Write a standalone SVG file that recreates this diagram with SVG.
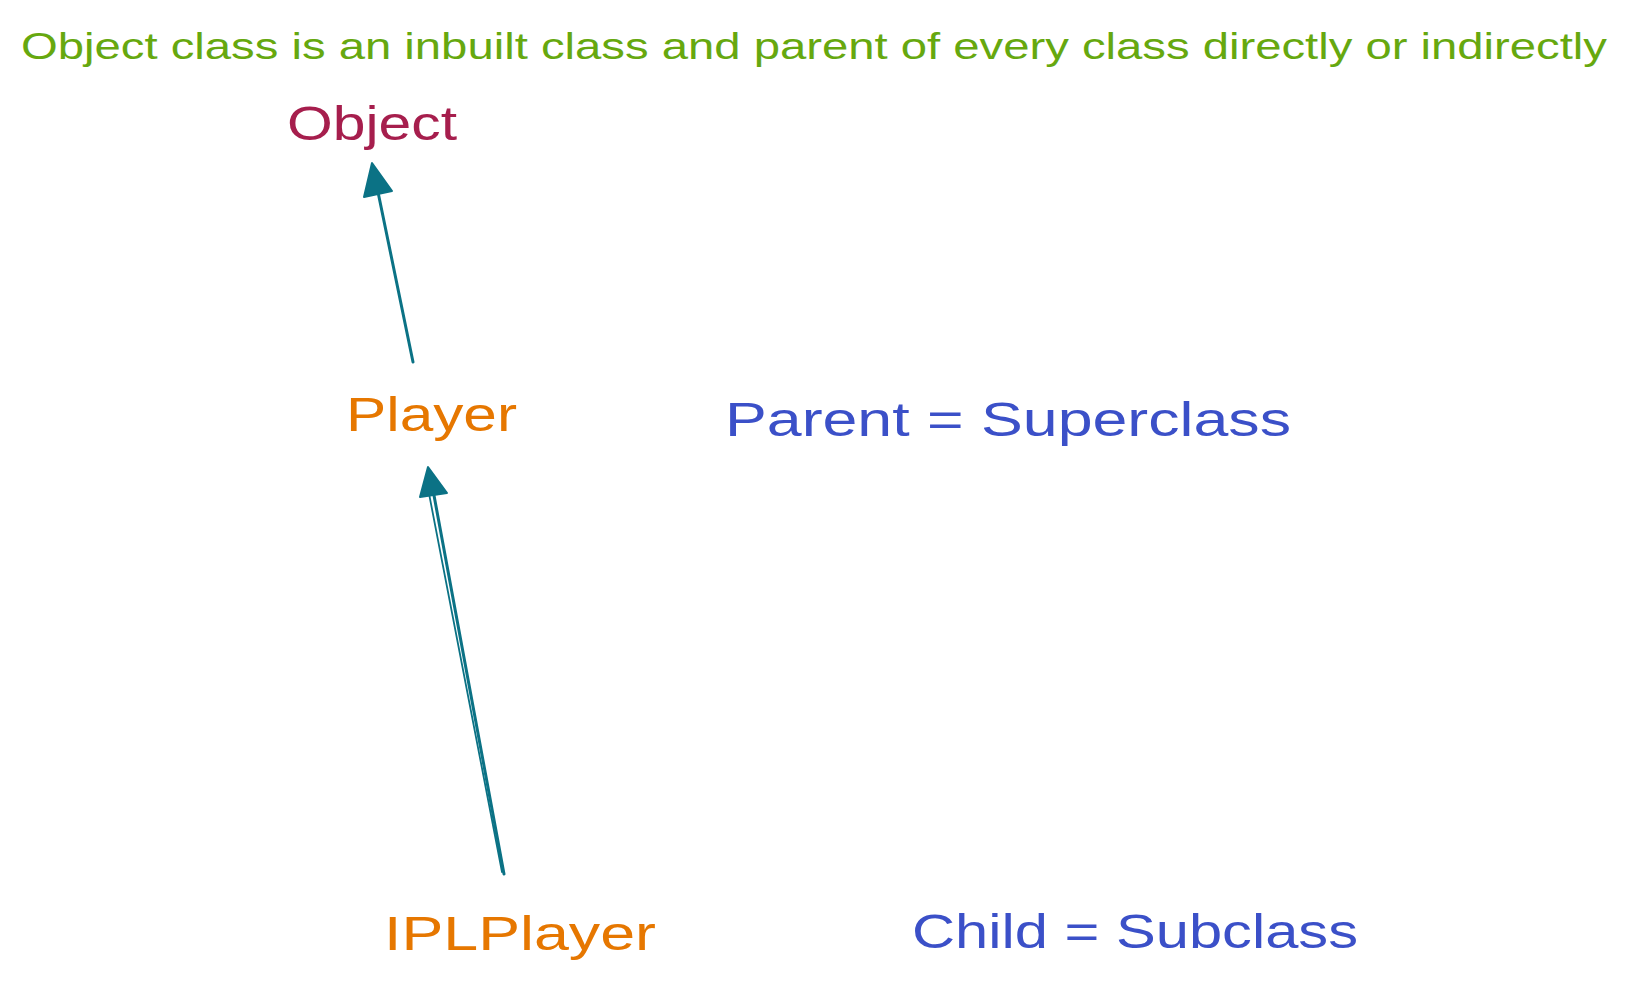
<svg xmlns="http://www.w3.org/2000/svg" width="1628" height="991" viewBox="0 0 1628 991">
  <style>
    .t { font-family: "Liberation Sans", "DejaVu Sans", sans-serif; }
    .note { fill: #66a80f; font-size: 37px; }
    .obj { fill: #a61e4d; font-size: 48px; }
    .cls { fill: #e67700; font-size: 48px; }
    .def { fill: #3b50c8; font-size: 48px; }
    .edge { stroke: #0b7285; stroke-width: 3; fill: none; stroke-linecap: round; }
    .head { fill: #0b7285; stroke: #0b7285; stroke-width: 2; stroke-linejoin: round; }
  </style>
  <rect width="1628" height="991" fill="#ffffff"/>
  <g id="note">
    <text class="t note" x="21" y="59" textLength="1586" lengthAdjust="spacingAndGlyphs">Object class is  an inbuilt class and parent of every class directly or indirectly</text>
  </g>
  <g id="node-object">
    <text class="t obj" x="287" y="140" textLength="170" lengthAdjust="spacingAndGlyphs">Object</text>
  </g>
  <g id="node-player">
    <text class="t cls" x="346" y="431" textLength="171" lengthAdjust="spacingAndGlyphs">Player</text>
  </g>
  <g id="node-iplplayer">
    <text class="t cls" x="384" y="950" textLength="272" lengthAdjust="spacingAndGlyphs">IPLPlayer</text>
  </g>
  <g id="label-parent">
    <text class="t def" x="725" y="436" textLength="566" lengthAdjust="spacingAndGlyphs">Parent = Superclass</text>
  </g>
  <g id="label-child">
    <text class="t def" x="912" y="948" textLength="446" lengthAdjust="spacingAndGlyphs">Child = Subclass</text>
  </g>
  <g id="connectors">
    <line class="edge" x1="413" y1="362" x2="378" y2="192"/>
    <polygon class="head" points="372,163 364,197 392,191"/>
    <line class="edge" x1="504" y1="874" x2="433" y2="490"/>
    <line class="edge" x1="502" y1="872" x2="426" y2="478" style="stroke-width:1.8"/>
    <polygon class="head" points="428,467 420,497 447,493"/>
  </g>
</svg>
